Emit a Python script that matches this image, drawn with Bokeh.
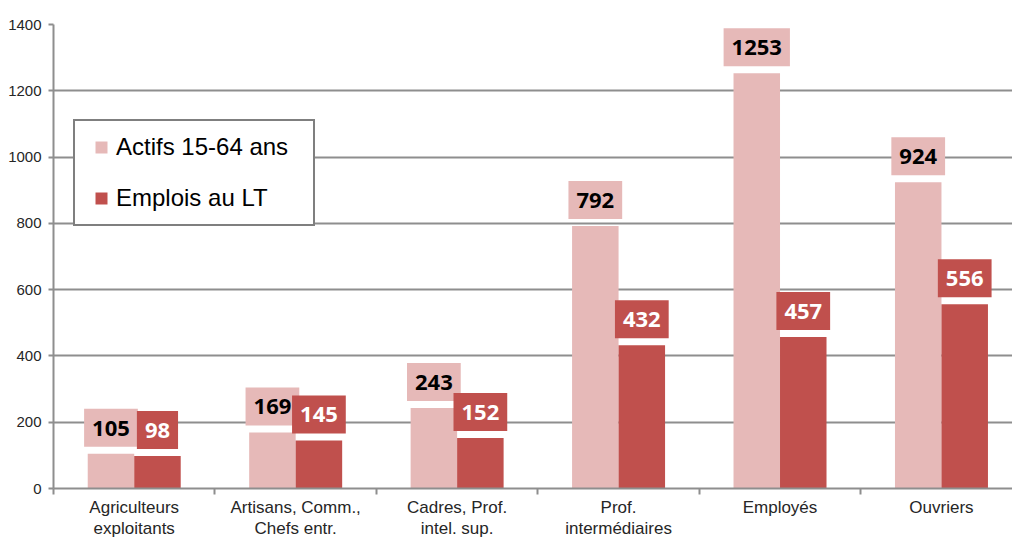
from bokeh.plotting import figure
from bokeh.models import ColumnDataSource, FixedTicker, Legend, LegendItem
from bokeh.core.properties import value
from bokeh.embed import file_html
from bokeh.resources import INLINE

# ---- data ----
categories = [
    "Agriculteurs\nexploitants",
    "Artisans, Comm.,\nChefs entr.",
    "Cadres, Prof.\nintel. sup.",
    "Prof.\nintermédiaires",
    "Employés",
    "Ouvriers",
]
actifs = [105, 169, 243, 792, 1253, 924]
emplois = [98, 145, 152, 432, 457, 556]
series_names = ["Actifs 15-64 ans", "Emplois au LT"]
y_ticks = [0, 200, 400, 600, 800, 1000, 1200, 1400]

LIGHT = "#E6B9B8"
DARK = "#C0504D"
GRID = "#8E8E8E"

n = len(categories)
centers = [i + 0.5 for i in range(n)]
boundaries = list(range(n + 1))
OFF = 0.144
BW = 0.288

src = ColumnDataSource(data=dict(
    xl=[c - OFF for c in centers],
    xd=[c + OFF for c in centers],
    actifs=actifs,
    emplois=emplois,
    tl=[str(v) for v in actifs],
    td=[str(v) for v in emplois],
))

p = figure(width=1012, height=541, x_range=(0, 5.94), y_range=(0, 1400),
           output_backend="svg", toolbar_location=None,
           min_border_left=53, min_border_right=0, min_border_top=24, min_border_bottom=53)
p.outline_line_color = None
p.xgrid.grid_line_color = None
p.ygrid.grid_line_color = GRID
p.ygrid.grid_line_width = 2
p.ygrid.ticker = FixedTicker(ticks=y_ticks)

# y axis
p.yaxis.ticker = FixedTicker(ticks=y_ticks)
p.yaxis.axis_line_color = GRID
p.yaxis.axis_line_width = 2
p.yaxis.major_tick_line_color = GRID
p.yaxis.major_tick_line_width = 2
p.yaxis.major_tick_out = 5
p.yaxis.major_tick_in = 0
p.yaxis.minor_tick_line_color = None
p.yaxis.major_label_standoff = 7
p.yaxis.major_label_text_font = "Liberation Sans"
p.yaxis.major_label_text_font_size = "15px"
p.yaxis.major_label_text_color = "#262626"

# x axis
p.xaxis.ticker = FixedTicker(ticks=centers, minor_ticks=boundaries)
p.xaxis.major_label_overrides = {c: lab for c, lab in zip(centers, categories)}
p.xaxis.axis_line_color = GRID
p.xaxis.axis_line_width = 2
p.xaxis.major_tick_line_color = None
p.xaxis.major_tick_out = 6
p.xaxis.major_tick_in = 0
p.xaxis.minor_tick_line_color = GRID
p.xaxis.minor_tick_line_width = 2
p.xaxis.minor_tick_out = 6
p.xaxis.minor_tick_in = 0
p.xaxis.major_label_standoff = 3
p.xaxis.major_label_text_font = "Liberation Sans"
p.xaxis.major_label_text_font_size = "17px"
p.xaxis.major_label_text_line_height = 1.15
p.xaxis.major_label_text_color = "#262626"

# bars
p.vbar(x="xl", top="actifs", width=BW, source=src, fill_color=LIGHT, line_color=None)
p.vbar(x="xd", top="emplois", width=BW, source=src, fill_color=DARK, line_color=None)

# value labels
common = dict(text_align="center", text_baseline="bottom", y_offset=-7,
              text_font=value("Open Sans"), text_font_style="bold",
              text_font_size="22px",
              padding=dict(left=8, right=8, top=12, bottom=11))
p.text(x="xl", y="actifs", text="tl", source=src, text_color="black",
       background_fill_color=LIGHT, **common)
p.text(x="xd", y="emplois", text="td", source=src, text_color="white",
       background_fill_color=DARK, **common)

# legend (dummy renderers placed outside the visible range)
r1 = p.scatter(x=[-10], y=[-10], marker="square", size=12, fill_color=LIGHT, line_color=None)
r2 = p.scatter(x=[-10], y=[-10], marker="square", size=12, fill_color=DARK, line_color=None)
legend = Legend(items=[LegendItem(label=series_names[0], renderers=[r1]),
                       LegendItem(label=series_names[1], renderers=[r2])],
                location=(20, 262), margin=0, padding=11, spacing=21,
                glyph_width=30, glyph_height=30, label_height=30, label_width=186,
                label_standoff=0, border_line_color="black", border_line_width=2,
                label_text_font="Liberation Sans", label_text_font_size="24px",
                label_text_color="black", background_fill_alpha=1.0)
p.add_layout(legend, "center")

open("out.html", "w").write(file_html(p, INLINE))
